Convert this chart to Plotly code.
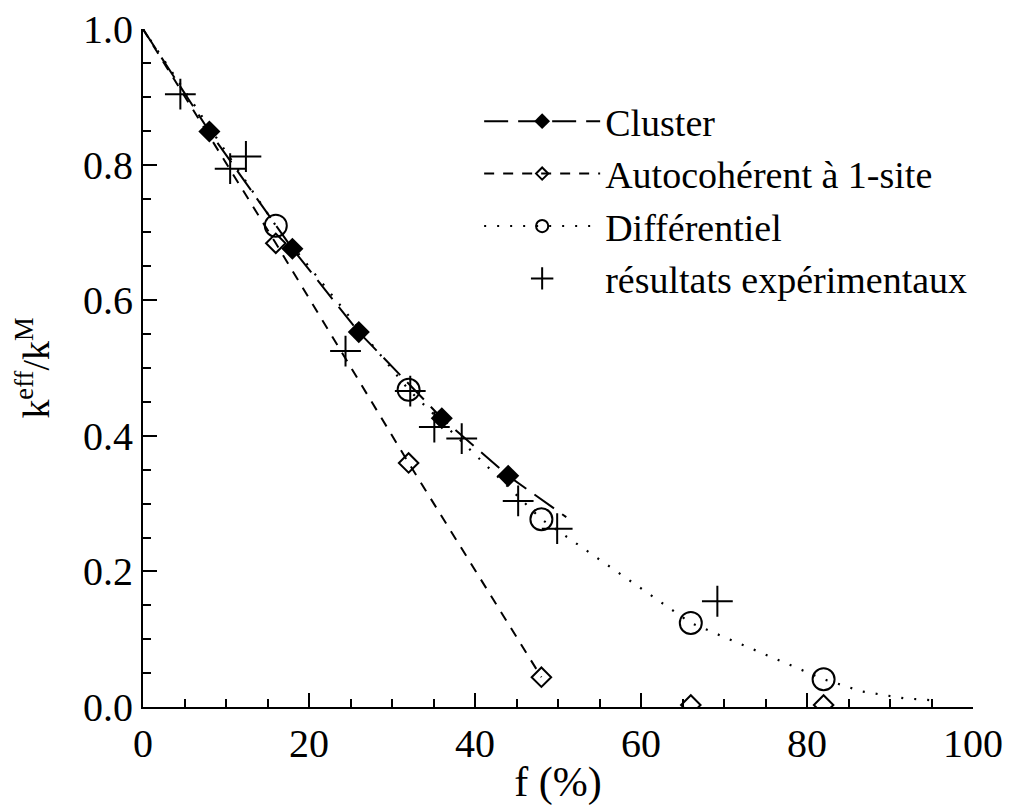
import plotly.graph_objects as go

# Cluster model: curve points (f %, k_eff/k_M); markers drawn at the inner points
cluster_f = [0, 8, 18, 26, 36, 44, 51]
cluster_k = [1.0, 0.849, 0.676, 0.553, 0.426, 0.341, 0.28]
cluster_marked = [False, True, True, True, True, True, False]

# Self-consistent one-site model (curve stops at 48 %, last two points on the axis)
auto_f = [0, 16, 32, 48, 66, 82]
auto_k = [1.0, 0.684, 0.36, 0.044, 0.003, 0.003]
auto_marked = [False, True, True, True, True, True]
auto_curve_end = 48

# Differential model
diff_f = [0, 16, 32, 48, 66, 82, 86.6, 91.6, 95]
diff_k = [1.0, 0.71, 0.468, 0.277, 0.124, 0.041, 0.023, 0.013, 0.01]
diff_marked = [False, True, True, True, True, True, False, False, False]

# Experimental results
exp_f = [4.5, 10.5, 12.4, 24.4, 32.2, 35.1, 38.4, 45.2, 49.9, 69.2]
exp_k = [0.904, 0.794, 0.812, 0.525, 0.466, 0.413, 0.396, 0.304, 0.263, 0.156]

y_ticks = [0.0, 0.2, 0.4, 0.6, 0.8, 1.0]
x_ticks = [0, 20, 40, 60, 80, 100]

FONT = "Liberation Serif"


def sizes(marked, s):
    return [s if m else 0 for m in marked]


def split_after(f, k, marked, f_end, s):
    # points beyond f_end are kept unconnected (None gaps between them)
    xs, ys, ss = [], [], []
    for fi, ki, mi in zip(f, k, marked):
        if fi > f_end:
            xs.append(None)
            ys.append(None)
            ss.append(0)
        xs.append(fi)
        ys.append(ki)
        ss.append(s if mi else 0)
    return xs, ys, ss


fig = go.Figure()

fig.add_trace(go.Scatter(
    x=cluster_f, y=cluster_k, mode="lines+markers", name="Cluster",
    line=dict(color="black", width=2, dash="24px,10px"),
    marker=dict(symbol="diamond", size=sizes(cluster_marked, 17), color="black",
                opacity=1, line=dict(width=0))))

ax, ay, asz = split_after(auto_f, auto_k, auto_marked, auto_curve_end, 15)
fig.add_trace(go.Scatter(
    x=ax, y=ay, mode="lines+markers", name="Autocohérent à 1-site", connectgaps=False,
    line=dict(color="black", width=2, dash="10px,9px"),
    marker=dict(symbol="diamond-open", size=asz, color="black", opacity=1,
                line=dict(width=2, color="black"))))

fig.add_trace(go.Scatter(
    x=diff_f, y=diff_k, mode="lines+markers", name="Différentiel",
    line=dict(color="black", width=2.2, dash="2px,11px"),
    marker=dict(symbol="circle-open", size=sizes(diff_marked, 22), color="black",
                opacity=1, line=dict(width=2, color="black"))))

fig.add_trace(go.Scatter(
    x=exp_f, y=exp_k, mode="markers", name="résultats expérimentaux",
    marker=dict(symbol="cross-thin-open", size=22, color="black", opacity=1,
                line=dict(width=2, color="black"))))

fig.update_layout(
    width=1016, height=805,
    margin=dict(l=135, r=51, t=21, b=106),
    paper_bgcolor="white", plot_bgcolor="white",
    font=dict(family=FONT, color="black", size=38),
    legend=dict(x=0.405, y=0.91, xanchor="left", yanchor="top",
                bgcolor="rgba(0,0,0,0)", font=dict(family=FONT, size=38),
                itemwidth=116, tracegroupgap=0),
)
fig.update_xaxes(range=[0, 100], showline=True, linecolor="black", linewidth=2,
                 showgrid=False, zeroline=False, ticks="inside", ticklen=14,
                 tickwidth=2, tickcolor="black", ticklabeloverflow="allow", automargin=False,
                 tickmode="array", tickvals=x_ticks, ticktext=[str(v) for v in x_ticks],
                 minor=dict(ticks="inside", ticklen=8, tickwidth=2, tickcolor="black",
                            tick0=0, dtick=5, showgrid=False),
                 tickfont=dict(family=FONT, size=40),
                 title=dict(text="f (%)", font=dict(family=FONT, size=42), standoff=2))
fig.update_yaxes(range=[0, 1.0001], showline=True, linecolor="black", linewidth=2,
                 showgrid=False, zeroline=False, ticks="inside", ticklen=14,
                 tickwidth=2, tickcolor="black", ticklabeloverflow="allow", automargin=False,
                 tickmode="array", tickvals=y_ticks, ticktext=[f"{v:.1f}" for v in y_ticks],
                 minor=dict(ticks="inside", ticklen=8, tickwidth=2, tickcolor="black",
                            tick0=0, dtick=0.05, showgrid=False),
                 tickfont=dict(family=FONT, size=40),
                 title=dict(text="k<sup>eff</sup>/k<sup>M</sup>", font=dict(family=FONT, size=38),
                            standoff=22))

fig.write_html("out.html")
